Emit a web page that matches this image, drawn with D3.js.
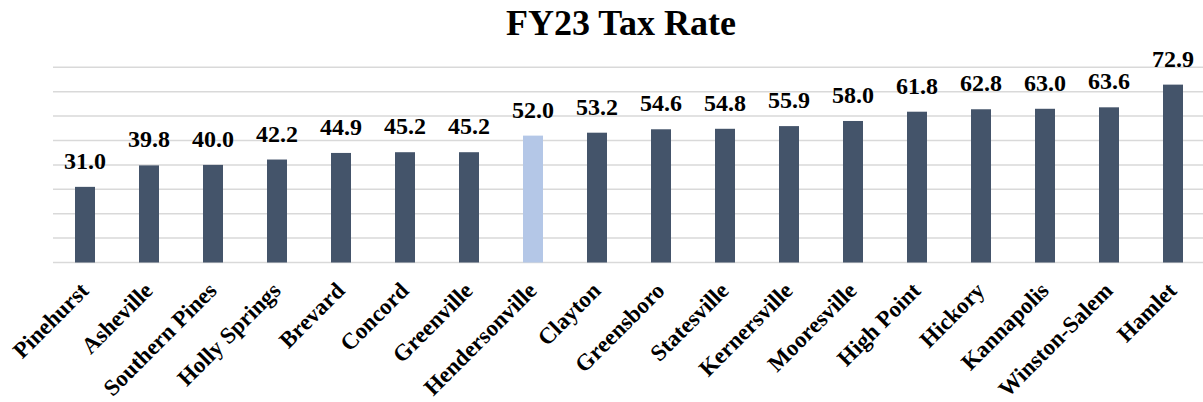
<!DOCTYPE html>
<html>
<head>
<meta charset="utf-8">
<script src="https://cdn.jsdelivr.net/npm/d3@7"></script>
<style>
  html, body { margin: 0; padding: 0; background: #fff; }
  svg { display: block; }
  text { font-family: "Liberation Serif", "Times New Roman", serif; font-weight: bold; fill: #000; }
</style>
</head>
<body>
<div id="chart"></div>
<script>
const categories = ["Pinehurst", "Asheville", "Southern Pines", "Holly Springs", "Brevard", "Concord", "Greenville", "Hendersonville", "Clayton", "Greensboro", "Statesville", "Kernersville", "Mooresville", "High Point", "Hickory", "Kannapolis", "Winston-Salem", "Hamlet"];
const values = [31.0, 39.8, 40.0, 42.2, 44.9, 45.2, 45.2, 52.0, 53.2, 54.6, 54.8, 55.9, 58.0, 61.8, 62.8, 63.0, 63.6, 72.9];
const highlighted = ["Hendersonville"];
const gridTicks = [0, 10, 20, 30, 40, 50, 60, 70, 80];
const titleText = "FY23 Tax Rate";

const W = 1203, H = 402;
const svg = d3.select("#chart").append("svg").attr("width", W).attr("height", H);

const x = d3.scaleBand().domain(categories).range([53, 1205]).paddingInner(0.6875).paddingOuter(0.34375);
const y = d3.scaleLinear().domain([0, 80]).range([262.5, 67.3]);

// gridlines
svg.append("g").selectAll("line").data(gridTicks).join("line")
  .attr("x1", 53).attr("x2", W)
  .attr("y1", d => y(d)).attr("y2", d => y(d))
  .attr("stroke", "#d9d9d9").attr("stroke-width", 1.5);

const data = categories.map((c, i) => ({ c, v: values[i] }));

svg.append("g").selectAll("rect").data(data).join("rect")
  .attr("x", d => x(d.c)).attr("width", x.bandwidth())
  .attr("y", d => y(d.v)).attr("height", d => y(0) - y(d.v))
  .attr("fill", d => highlighted.includes(d.c) ? "#b4c7e7" : "#44546a");

svg.append("g").selectAll("text").data(data).join("text")
  .attr("x", d => x(d.c) + x.bandwidth() / 2)
  .attr("y", d => y(d.v) - 18)
  .attr("text-anchor", "middle")
  .style("font-size", "24px")
  .text(d => d.v.toFixed(1));

// category axis labels
svg.append("g").selectAll("text").data(categories).join("text")
  .attr("text-anchor", "end")
  .style("font-size", "23px")
  .attr("transform", d => `translate(${x(d) + x.bandwidth() / 2 + 5},${292}) rotate(-45)`)
  .text(d => d);

svg.append("text")
  .attr("x", 621).attr("y", 35)
  .attr("text-anchor", "middle")
  .style("font-size", "36px")
  .text(titleText);
</script>
</body>
</html>
